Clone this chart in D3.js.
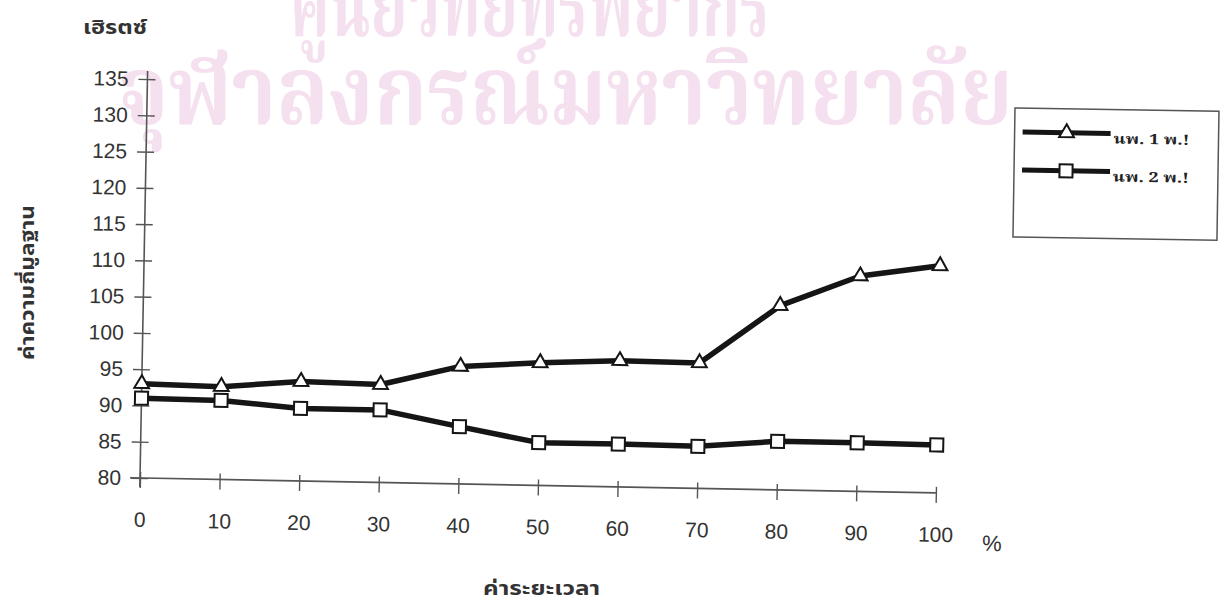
<!DOCTYPE html>
<html><head><meta charset="utf-8">
<script src="https://cdn.jsdelivr.net/npm/d3@7"></script>
<style>
html,body{margin:0;padding:0;background:#fff;}
svg{display:block;}
</style></head>
<body>
<svg id="chart" width="1228" height="603"></svg>
<script>
// ---- data ----
const xCategories = [0, 10, 20, 30, 40, 50, 60, 70, 80, 90, 100];
const yTickValues = [80, 85, 90, 95, 100, 105, 110, 115, 120, 125, 130, 135];
const seriesNames = ["นพ. 1 พ.!", "นพ. 2 พ.!"];
const series1 = [93.0, 92.8, 93.7, 93.5, 96.2, 96.9, 97.4, 97.3, 105.4, 109.7, 111.3];
const series2 = [91.0, 90.9, 90.0, 90.0, 87.9, 85.9, 85.9, 85.8, 86.7, 86.7, 86.6];
const yUnit = "เฮิรตซ์";
const yTitle = "ค่าความถี่มูลฐาน";
const xTitle = "ค่าระยะเวลา";
const xUnit = "%";
const watermark1 = "ศูนย์วิทยทรัพยากร";
const watermark2 = "จุฬาลงกรณ์มหาวิทยาลัย";

const thaiSerif = "'Noto Serif Thai','Noto Sans Thai Looped','Norasi','Loma','Noto Sans Thai','Garuda',serif";
const thaiFont = "'Noto Sans Thai','Loma','Garuda','Tlwg Typo','Noto Sans','DejaVu Sans',sans-serif";
const numFont = "'Liberation Sans',Arial,sans-serif";

const svg = d3.select("#chart");

// watermark
svg.append("text").attr("x", 290).attr("y", 36).attr("textLength", 480).attr("lengthAdjust", "spacingAndGlyphs")
  .attr("font-family", thaiSerif).attr("font-weight", "bold").attr("font-size", 92).attr("fill", "#f5e0f0").text(watermark1);
svg.append("text").attr("x", 118).attr("y", 124).attr("textLength", 895).attr("lengthAdjust", "spacingAndGlyphs")
  .attr("font-family", thaiSerif).attr("font-weight", "bold").attr("font-size", 96).attr("fill", "#f5e0f0").text(watermark2);

const W = 796, H = 399;
const x = d3.scaleLinear().domain([0, 100]).range([0, W]);
const y = d3.scaleLinear().domain([80, 135]).range([0, -H]);

const g = svg.append("g").attr("transform", "translate(140,478) rotate(1.07)");

// axes lines
g.append("line").attr("x1", -10).attr("x2", W).attr("y1", 0).attr("y2", 0).attr("stroke", "#555").attr("stroke-width", 1.6);
g.append("line").attr("x1", 0).attr("x2", 0).attr("y1", 9).attr("y2", -H - 8).attr("stroke", "#555").attr("stroke-width", 1.6);

const yAx = g.append("g").call(d3.axisLeft(y).tickValues(yTickValues).tickSize(0).tickPadding(19));
yAx.select(".domain").remove();
yAx.selectAll(".tick line").attr("x1", -9).attr("x2", 8).attr("stroke", "#555").attr("stroke-width", 1.4);
yAx.selectAll(".tick text").attr("font-family", numFont).attr("font-size", 21).attr("fill", "#333");

const xAx = g.append("g").call(d3.axisBottom(x).tickValues(xCategories).tickSize(0).tickPadding(34));
xAx.select(".domain").remove();
xAx.selectAll(".tick line").attr("y1", -6).attr("y2", 10).attr("stroke", "#555").attr("stroke-width", 1.4);
xAx.selectAll(".tick text").attr("font-family", numFont).attr("font-size", 21).attr("fill", "#333");

g.append("text").attr("x", 853).attr("y", 57).attr("font-family", numFont).attr("font-size", 22)
  .attr("text-anchor", "middle").attr("fill", "#333").text(xUnit);

// lines
const line = d3.line().x((d, i) => x(xCategories[i])).y(d => y(d));
[series1, series2].forEach(s => {
  g.append("path").datum(s).attr("d", line).attr("fill", "none").attr("stroke", "#151515")
    .attr("stroke-width", 5.5).attr("stroke-linejoin", "round");
});
const tri = d3.symbol(d3.symbolTriangle, 95);
const sq = d3.symbol(d3.symbolSquare, 170);
g.selectAll(".m1").data(series1).join("path").attr("d", tri)
  .attr("transform", (d, i) => `translate(${x(xCategories[i])},${y(d)})`)
  .attr("fill", "#fff").attr("stroke", "#151515").attr("stroke-width", 2);
g.selectAll(".m2").data(series2).join("path").attr("d", sq)
  .attr("transform", (d, i) => `translate(${x(xCategories[i])},${y(d)})`)
  .attr("fill", "#fff").attr("stroke", "#151515").attr("stroke-width", 2);

// titles
svg.append("text").attr("x", 83).attr("y", 34).attr("textLength", 64).attr("lengthAdjust", "spacingAndGlyphs")
  .attr("font-family", thaiFont).attr("font-size", 19).attr("font-weight", "bold").attr("fill", "#333").text(yUnit);
svg.append("text").attr("transform", "translate(34,360) rotate(-90)").attr("textLength", 155).attr("lengthAdjust", "spacingAndGlyphs")
  .attr("font-family", thaiFont).attr("font-size", 19).attr("font-weight", "bold").attr("fill", "#333").text(yTitle);
svg.append("text").attr("x", 483).attr("y", 595).attr("textLength", 117).attr("lengthAdjust", "spacingAndGlyphs")
  .attr("font-family", thaiFont).attr("font-size", 19).attr("font-weight", "bold").attr("fill", "#333").text(xTitle);

// legend
const lg = svg.append("g").attr("transform", "translate(1015,108) rotate(0.9)");
lg.append("rect").attr("x", 0).attr("y", 0).attr("width", 204).attr("height", 129)
  .attr("fill", "#fff").attr("stroke", "#555").attr("stroke-width", 1.5);
const legY = [24, 62];
seriesNames.forEach((name, i) => {
  lg.append("line").attr("x1", 8).attr("x2", 96).attr("y1", legY[i]).attr("y2", legY[i])
    .attr("stroke", "#151515").attr("stroke-width", 5);
  lg.append("path").attr("d", i === 0 ? tri : sq).attr("transform", `translate(52,${legY[i]})`)
    .attr("fill", "#fff").attr("stroke", "#151515").attr("stroke-width", 2);
  lg.append("text").attr("x", 99).attr("y", legY[i] + 10).attr("textLength", 76).attr("lengthAdjust", "spacingAndGlyphs")
    .attr("font-family", thaiSerif).attr("font-size", 14).attr("font-weight", "bold").attr("fill", "#222").text(name);
});
</script>
</body></html>
